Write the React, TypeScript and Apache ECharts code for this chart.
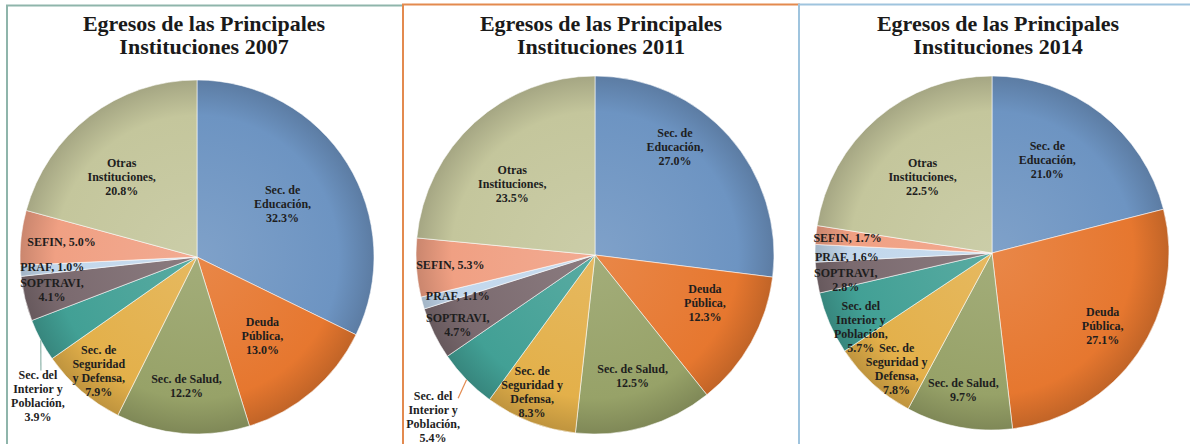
import React, { useEffect, useRef } from "react";
import * as echarts from "echarts";

// ---------- data ----------
const categories = [
  "Sec. de Educación",
  "Deuda Pública",
  "Sec. de Salud",
  "Sec. de Seguridad y Defensa",
  "Sec. del Interior y Población",
  "SOPTRAVI",
  "PRAF",
  "SEFIN",
  "Otras Instituciones",
];
const years = ["2007", "2011", "2014"];
const values2007 = [32.3, 13.0, 12.2, 7.9, 3.9, 4.1, 1.0, 5.0, 20.8];
const values2011 = [27.0, 12.3, 12.5, 8.3, 5.4, 4.7, 1.1, 5.3, 23.5];
const values2014 = [21.0, 27.1, 9.7, 7.8, 5.7, 2.8, 1.6, 1.7, 22.5];

const labelNames2007 = [
  "Sec. de\nEducación",
  "Deuda\nPública",
  "Sec. de Salud",
  "Sec. de\nSeguridad\ny Defensa",
  "Sec. del\nInterior y\nPoblación",
  "SOPTRAVI",
  "PRAF",
  "SEFIN",
  "Otras\nInstituciones",
];
const labelNames2011 = [
  "Sec. de\nEducación",
  "Deuda\nPública",
  "Sec. de Salud",
  "Sec. de\nSeguridad y\nDefensa",
  "Sec. del\nInterior y\nPoblación",
  "SOPTRAVI",
  "PRAF",
  "SEFIN",
  "Otras\nInstituciones",
];
const labelNames2014 = labelNames2011;
const inlineLabels = ["PRAF", "SEFIN"];

// ---------- styles ----------
const sliceColors = [
  "#6d94c2",
  "#e6772f",
  "#97a268",
  "#e3b04a",
  "#42a095",
  "#7b6a6f",
  "#c2d7ec",
  "#f0a083",
  "#c4c69c",
];

const panels = [
  {
    cx: 197, cy: 257, r: 177, titleX: 204, border: "#8fb5ab",
    rect: { x: 7, y: 5.5, width: 396, height: 470 },
    place: [[0.57, 0], [0.58, 1], [0.73, 0], [0.85, 0], [1.195, -13.2], [0.84, 1], [0.82, 0.5], [0.77, 0], [0.62, -6]],
    leader: { 4: [3, -26] },
  },
  {
    cx: 595, cy: 255, r: 179, titleX: 601, border: "#e38a4f",
    rect: { x: 403, y: 4.5, width: 396, height: 470 },
    place: [[0.75, -12], [0.67, -5.6], [0.71, -1], [0.84, 3.5], [1.28, -0.9], [0.86, -1], [0.8, -1], [0.81, 0], [0.61, -7]],
    leader: { 4: [25, -19] },
  },
  {
    cx: 992, cy: 253, r: 177, titleX: 998, border: "#9fc4de",
    rect: { x: 799, y: 4.5, width: 430, height: 470 },
    place: [[0.61, -7], [0.75, -1], [0.79, 1], [0.85, -3], [0.85, -6], [0.84, -2.4], [0.82, -1.5], [0.82, 0], [0.58, -2]],
    leader: {},
  },
];

const seriesValues = [values2007, values2011, values2014];
const seriesLabelNames = [labelNames2007, labelNames2011, labelNames2014];

function shade(hex: string, amt: number): string {
  const n = parseInt(hex.slice(1), 16);
  let r = (n >> 16) & 255, g = (n >> 8) & 255, b = n & 255;
  const f = (c: number) =>
    Math.round(amt >= 0 ? c + (255 - c) * amt : c * (1 + amt));
  r = f(r); g = f(g); b = f(b);
  return "#" + ((1 << 24) + (r << 16) + (g << 8) + b).toString(16).slice(1);
}

function midAngle(values: number[], i: number): number {
  const total = values.reduce((a, b) => a + b, 0);
  let before = 0;
  for (let k = 0; k < i; k++) before += values[k];
  return ((before + values[i] / 2) / total) * 360;
}

function polar(cx: number, cy: number, rr: number, deg: number) {
  const t = (deg * Math.PI) / 180;
  return [cx + rr * Math.sin(t), cy - rr * Math.cos(t)];
}

function labelPos(p: any, values: number[], i: number) {
  const [rf, off] = p.place[i];
  return polar(p.cx, p.cy, p.r * rf, midAngle(values, i) + off);
}

export default function App() {
  const ref = useRef<HTMLDivElement>(null);

  useEffect(() => {
    document.body.style.margin = "0";
    if (!ref.current) return;
    const chart = echarts.init(ref.current, null, { renderer: "svg" });

    const series = panels.map((p, pi) => {
      const values = seriesValues[pi];
      const names = seriesLabelNames[pi];
      return {
        type: "pie",
        name: years[pi],
        center: [p.cx, p.cy],
        radius: [0, p.r],
        startAngle: 90,
        clockwise: true,
        avoidLabelOverlap: false,
        label: {
          show: true,
          position: "inside",
          color: "#1e1e1e",
          fontFamily: "Liberation Serif",
          fontWeight: "bold",
          fontSize: 12,
          lineHeight: 14,
          formatter: (params: any) => {
            const nm = names[params.dataIndex];
            const sep = inlineLabels.includes(categories[params.dataIndex]) ? ", " : ",\n";
            return nm + sep + Number(params.value).toFixed(1) + "%";
          },
        },
        labelLine: { show: false },
        labelLayout: (params: any) => {
          const [x, y] = labelPos(p, values, params.dataIndex);
          return { x, y, align: "center", verticalAlign: "middle" };
        },
        itemStyle: {
          borderColor: "rgba(255,255,255,0.55)",
          borderWidth: 1,
        },
        data: categories.map((c, i) => {
          const base = sliceColors[i];
          return {
            name: c,
            value: values[i],
            itemStyle: {
              color: {
                type: "radial",
                x: p.cx,
                y: p.cy,
                r: p.r,
                global: true,
                colorStops: [
                  { offset: 0, color: shade(base, 0.12) },
                  { offset: 0.8, color: base },
                  { offset: 1, color: shade(base, -0.16) },
                ],
              },
            },
          };
        }),
      };
    });

    const graphic: any[] = [];
    panels.forEach((p) => {
      graphic.push({
        type: "rect",
        shape: p.rect,
        style: { fill: "none", stroke: p.border, lineWidth: 2 },
        silent: true,
      });
    });
    panels.forEach((p, pi) => {
      graphic.push({
        type: "text",
        x: p.titleX,
        y: 12,
        style: {
          text: "Egresos de las Principales\nInstituciones " + years[pi],
          align: "center",
          verticalAlign: "top",
          fontFamily: "Liberation Serif",
          fontWeight: "bold",
          fontSize: 22,
          lineHeight: 23,
          fill: "#1a1a1a",
        },
        silent: true,
      });
      // leader lines for labels placed outside their slice
      const values = seriesValues[pi];
      Object.keys(p.leader).forEach((k) => {
        const i = Number(k);
        const ld = (p.leader as any)[k];
        const start = polar(p.cx, p.cy, p.r, midAngle(values, i));
        const [lx, ly] = labelPos(p, values, i);
        graphic.push({
          type: "polyline",
          z: 10,
          shape: { points: [start, [lx + ld[0], ly + ld[1]]] },
          style: { stroke: p.border, lineWidth: 1.2, fill: "none" },
          silent: true,
        });
      });
    });

    chart.setOption({
      animation: false,
      backgroundColor: "#ffffff",
      tooltip: { show: false },
      graphic,
      series,
    } as any);

    return () => chart.dispose();
  }, []);

  return <div ref={ref} style={{ width: 1190, height: 444 }} />;
}
